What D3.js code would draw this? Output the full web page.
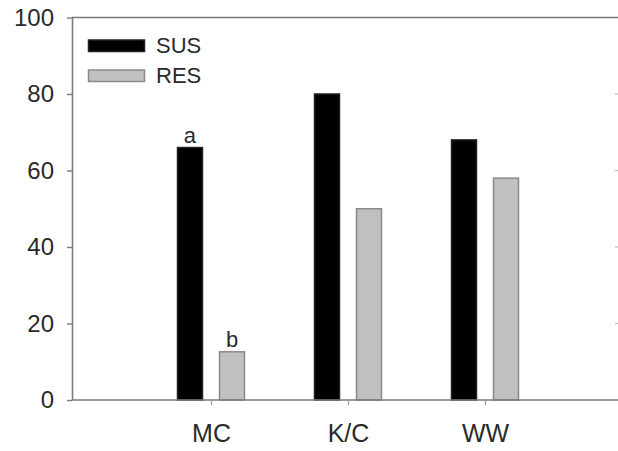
<!DOCTYPE html>
<html>
<head>
<meta charset="utf-8">
<script src="https://cdn.jsdelivr.net/npm/d3@7"></script>
<style>
  html, body { margin: 0; padding: 0; background: #fff; }
  svg { display: block; font-family: "Liberation Sans", Arial, sans-serif; }
</style>
</head>
<body>
<svg id="chart" width="618" height="451"></svg>
<script>
// Percentages per site for susceptible and resistant groups
const categories = ["MC", "K/C", "WW"];
const seriesNames = ["SUS", "RES"];
const susValues = [66, 80, 68];
const resValues = [12.6, 50, 58];
const yTicks = [0, 20, 40, 60, 80, 100];
// Significance letters: [category, series, letter]
const letters = [["MC", "SUS", "a"], ["MC", "RES", "b"]];

(function () {
  const svg = d3.select("#chart");
  const W = 618;
  const plotLeft = 72, plotTop = 17.5, plotBottom = 400, plotRight = 622;
  const axisColor = "#7a7a7a";
  const textColor = "#2a2a2a";

  const y = d3.scaleLinear().domain([0, 100]).range([plotBottom, plotTop]);
  // categories sit at positions 1..3 on a 0..4 axis
  const x = d3.scaleLinear().domain([0, 4]).range([74, plotRight]);
  const inner = d3.scaleBand().domain(seriesNames).range([-33.5, 33.5]).paddingInner(0.405);

  const fills = { SUS: "#000000", RES: "#c0c0c0" };
  const strokes = { SUS: "#222222", RES: "#8a8a8a" };

  const rows = categories.map((c, i) => ({ cat: c, i: i + 1, SUS: susValues[i], RES: resValues[i] }));

  // frame: top line and faint right-side ticks
  svg.append("line")
    .attr("x1", plotLeft).attr("x2", W).attr("y1", plotTop).attr("y2", plotTop)
    .attr("stroke", axisColor).attr("stroke-width", 1.6);
  svg.append("g").selectAll("line").data(yTicks.filter(t => t > 0 && t < 100)).join("line")
    .attr("x1", 615).attr("x2", 618)
    .attr("y1", d => y(d)).attr("y2", d => y(d))
    .attr("stroke", "#bbb").attr("stroke-width", 1.2);

  // bars
  const g = svg.append("g");
  rows.forEach(r => {
    seriesNames.forEach(s => {
      g.append("rect")
        .attr("x", x(r.i) + inner(s))
        .attr("y", y(r[s]))
        .attr("width", inner.bandwidth())
        .attr("height", y(0) - y(r[s]))
        .attr("fill", fills[s])
        .attr("stroke", strokes[s])
        .attr("stroke-width", 1.5);
    });
  });

  // letters above bars
  letters.forEach(([c, s, l]) => {
    const i = categories.indexOf(c);
    const v = s === "SUS" ? susValues[i] : resValues[i];
    svg.append("text")
      .attr("x", x(i + 1) + inner(s) + inner.bandwidth() / 2)
      .attr("y", y(v) - 5)
      .attr("text-anchor", "middle")
      .attr("font-size", 22)
      .attr("fill", textColor)
      .text(l);
  });

  // y axis
  const yAxis = d3.axisLeft(y).tickValues(yTicks).tickSize(5).tickPadding(13).tickSizeOuter(0);
  const ya = svg.append("g").attr("transform", `translate(${plotLeft},0)`).call(yAxis);
  ya.select(".domain").attr("stroke", axisColor).attr("stroke-width", 1.6);
  ya.selectAll(".tick line").attr("stroke", axisColor).attr("stroke-width", 1.4);
  ya.selectAll(".tick text").attr("font-size", 24).attr("fill", textColor)
    .attr("font-family", "Liberation Sans, Arial, sans-serif");

  // x axis
  svg.append("line")
    .attr("x1", plotLeft).attr("x2", W).attr("y1", plotBottom).attr("y2", plotBottom)
    .attr("stroke", axisColor).attr("stroke-width", 1.6);
  const xAxis = d3.axisBottom(x).tickValues(rows.map(r => r.i))
    .tickFormat(d => categories[d - 1]).tickSize(5).tickPadding(19).tickSizeOuter(0);
  const xa = svg.append("g").attr("transform", `translate(0,${plotBottom})`).call(xAxis);
  xa.select(".domain").remove();
  xa.selectAll(".tick line").attr("stroke", "#999").attr("stroke-width", 1.2);
  xa.selectAll(".tick text").attr("font-size", 25).attr("fill", textColor)
    .attr("font-family", "Liberation Sans, Arial, sans-serif");

  // legend
  const legend = svg.append("g");
  seriesNames.forEach((s, k) => {
    const yy = 40 + k * 30;
    legend.append("rect")
      .attr("x", 88.5).attr("y", yy).attr("width", 56).attr("height", 11.5)
      .attr("fill", fills[s]).attr("stroke", strokes[s]).attr("stroke-width", 1.5);
    legend.append("text")
      .attr("x", 156).attr("y", yy + 13)
      .attr("font-size", 22).attr("fill", textColor)
      .text(s);
  });
})();
</script>
</body>
</html>
